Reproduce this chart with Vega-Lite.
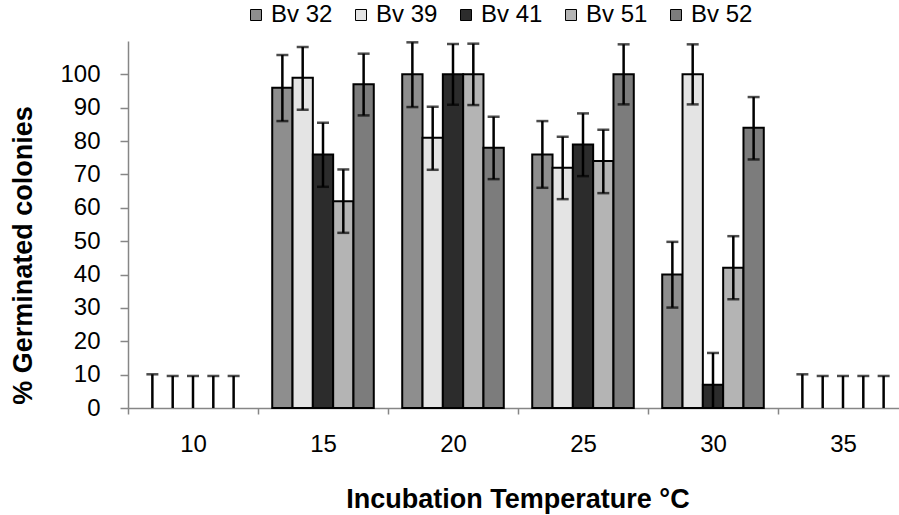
{
  "$schema": "https://vega.github.io/schema/vega-lite/v6.json",
  "width": 771,
  "height": 367,
  "autosize": {"type": "none"},
  "padding": {"left": 128, "top": 41, "right": 0, "bottom": 107},
  "background": "white",
  "config": {
    "font": "Liberation Sans",
    "view": {"stroke": null},
    "axisY": {
      "labelOverlap": false,
      "grid": false,
      "domainColor": "#868686",
      "domainWidth": 1.5,
      "tickColor": "#868686",
      "tickWidth": 1.5,
      "tickSize": 8,
      "labelFontSize": 24,
      "labelColor": "black",
      "labelPadding": 20,
      "titleFontSize": 27,
      "titleFontWeight": "bold",
      "titleColor": "black",
      "titleX": -105,
      "titleY": 214,
      "titleBaseline": "middle",
      "titleAlign": "center",
      "titleAngle": -90
    }
  },
  "data": {
    "values": [
      {"temp": "10", "strain": "Bv 32", "value": 0, "lo": 0, "hi": 10.1},
      {"temp": "10", "strain": "Bv 39", "value": 0, "lo": 0, "hi": 9.6},
      {"temp": "10", "strain": "Bv 41", "value": 0, "lo": 0, "hi": 9.6},
      {"temp": "10", "strain": "Bv 51", "value": 0, "lo": 0, "hi": 9.6},
      {"temp": "10", "strain": "Bv 52", "value": 0, "lo": 0, "hi": 9.6},
      {"temp": "15", "strain": "Bv 32", "value": 96, "lo": 86, "hi": 105.8},
      {"temp": "15", "strain": "Bv 39", "value": 99, "lo": 89.4, "hi": 108.2},
      {"temp": "15", "strain": "Bv 41", "value": 76, "lo": 66.3, "hi": 85.5},
      {"temp": "15", "strain": "Bv 51", "value": 62, "lo": 52.5, "hi": 71.5},
      {"temp": "15", "strain": "Bv 52", "value": 97, "lo": 87.7, "hi": 106.2},
      {"temp": "20", "strain": "Bv 32", "value": 100, "lo": 90.2, "hi": 109.6},
      {"temp": "20", "strain": "Bv 39", "value": 81, "lo": 71.4, "hi": 90.3},
      {"temp": "20", "strain": "Bv 41", "value": 100, "lo": 90.9, "hi": 109.1},
      {"temp": "20", "strain": "Bv 51", "value": 100, "lo": 90.8, "hi": 109.2},
      {"temp": "20", "strain": "Bv 52", "value": 78, "lo": 68.6, "hi": 87.3},
      {"temp": "25", "strain": "Bv 32", "value": 76, "lo": 66, "hi": 86},
      {"temp": "25", "strain": "Bv 39", "value": 72, "lo": 62.6, "hi": 81.3},
      {"temp": "25", "strain": "Bv 41", "value": 79, "lo": 69.5, "hi": 88.3},
      {"temp": "25", "strain": "Bv 51", "value": 74, "lo": 64.4, "hi": 83.4},
      {"temp": "25", "strain": "Bv 52", "value": 100, "lo": 91, "hi": 109},
      {"temp": "30", "strain": "Bv 32", "value": 40, "lo": 30.1, "hi": 49.8},
      {"temp": "30", "strain": "Bv 39", "value": 100, "lo": 91, "hi": 109},
      {"temp": "30", "strain": "Bv 41", "value": 7, "lo": 0, "hi": 16.5},
      {"temp": "30", "strain": "Bv 51", "value": 42, "lo": 32.6, "hi": 51.5},
      {"temp": "30", "strain": "Bv 52", "value": 84, "lo": 74.5, "hi": 93.2},
      {"temp": "35", "strain": "Bv 32", "value": 0, "lo": 0, "hi": 10.1},
      {"temp": "35", "strain": "Bv 39", "value": 0, "lo": 0, "hi": 9.6},
      {"temp": "35", "strain": "Bv 41", "value": 0, "lo": 0, "hi": 9.6},
      {"temp": "35", "strain": "Bv 51", "value": 0, "lo": 0, "hi": 9.6},
      {"temp": "35", "strain": "Bv 52", "value": 0, "lo": 0, "hi": 9.6}
    ]
  },
  "encoding": {
    "x": {
      "field": "temp",
      "type": "nominal",
      "sort": ["10", "15", "20", "25", "30", "35"],
      "scale": {"paddingInner": 0, "paddingOuter": 0, "range": [0, 780]},
      "axis": {
        "title": "Incubation  Temperature °C",
        "labelAngle": 0,
        "tickBand": "extent",
        "domainColor": "#868686",
        "domainWidth": 1.5,
        "tickColor": "#868686",
        "tickWidth": 1.5,
        "tickSize": 6,
        "labelFontSize": 24,
        "labelColor": "black",
        "labelPadding": 18,
        "titleFontSize": 27,
        "titleFontWeight": "bold",
        "titleColor": "black",
        "titleX": 389.5,
        "titleY": 99,
        "titleBaseline": "alphabetic",
        "titleAlign": "center"
      }
    },
    "xOffset": {
      "field": "strain",
      "type": "nominal",
      "sort": ["Bv 32", "Bv 39", "Bv 41", "Bv 51", "Bv 52"],
      "scale": {"paddingInner": 0, "paddingOuter": 0.7}
    }
  },
  "layer": [
    {
      "transform": [{"filter": "datum.value > 0"}],
      "mark": {"type": "bar", "stroke": "black", "strokeWidth": 2},
      "encoding": {
        "y": {
          "field": "value",
          "type": "quantitative",
          "title": "% Germinated colonies",
          "scale": {"domain": [0, 110], "nice": false},
          "axis": {"values": [0, 10, 20, 30, 40, 50, 60, 70, 80, 90, 100], "labelOverlap": false}
        },
        "fill": {
          "field": "strain",
          "type": "nominal",
          "sort": ["Bv 32", "Bv 39", "Bv 41", "Bv 51", "Bv 52"],
          "scale": {
            "domain": ["Bv 32", "Bv 39", "Bv 41", "Bv 51", "Bv 52"],
            "range": ["#8e8e8e", "#e4e4e4", "#2c2c2c", "#b4b4b4", "#7c7c7c"]
          },
          "legend": {
            "title": null,
            "orient": "none",
            "direction": "horizontal",
            "columns": 5,
            "legendX": 116,
            "legendY": -38,
            "padding": 0,
            "symbolType": "square",
            "symbolSize": 121,
            "symbolStrokeColor": "black",
            "symbolStrokeWidth": 1,
            "labelFontSize": 24,
            "labelColor": "black",
            "labelOffset": 3,
            "columnPadding": 16
          }
        }
      }
    },
    {
      "mark": {"type": "rule", "color": "black", "strokeWidth": 2.5},
      "encoding": {
        "y": {
          "field": "lo",
          "type": "quantitative",
          "title": "% Germinated colonies",
          "axis": {"values": [0, 10, 20, 30, 40, 50, 60, 70, 80, 90, 100], "labelOverlap": false}
        },
        "y2": {"field": "hi"}
      }
    },
    {
      "mark": {"type": "tick", "color": "black", "thickness": 2.5, "size": 12},
      "encoding": {
        "y": {
          "field": "hi",
          "type": "quantitative",
          "title": "% Germinated colonies",
          "axis": {"values": [0, 10, 20, 30, 40, 50, 60, 70, 80, 90, 100], "labelOverlap": false}
        }
      }
    },
    {
      "transform": [{"filter": "datum.lo > 0"}],
      "mark": {"type": "tick", "color": "black", "thickness": 2.5, "size": 12},
      "encoding": {
        "y": {
          "field": "lo",
          "type": "quantitative",
          "title": "% Germinated colonies",
          "axis": {"values": [0, 10, 20, 30, 40, 50, 60, 70, 80, 90, 100], "labelOverlap": false}
        }
      }
    }
  ]
}
